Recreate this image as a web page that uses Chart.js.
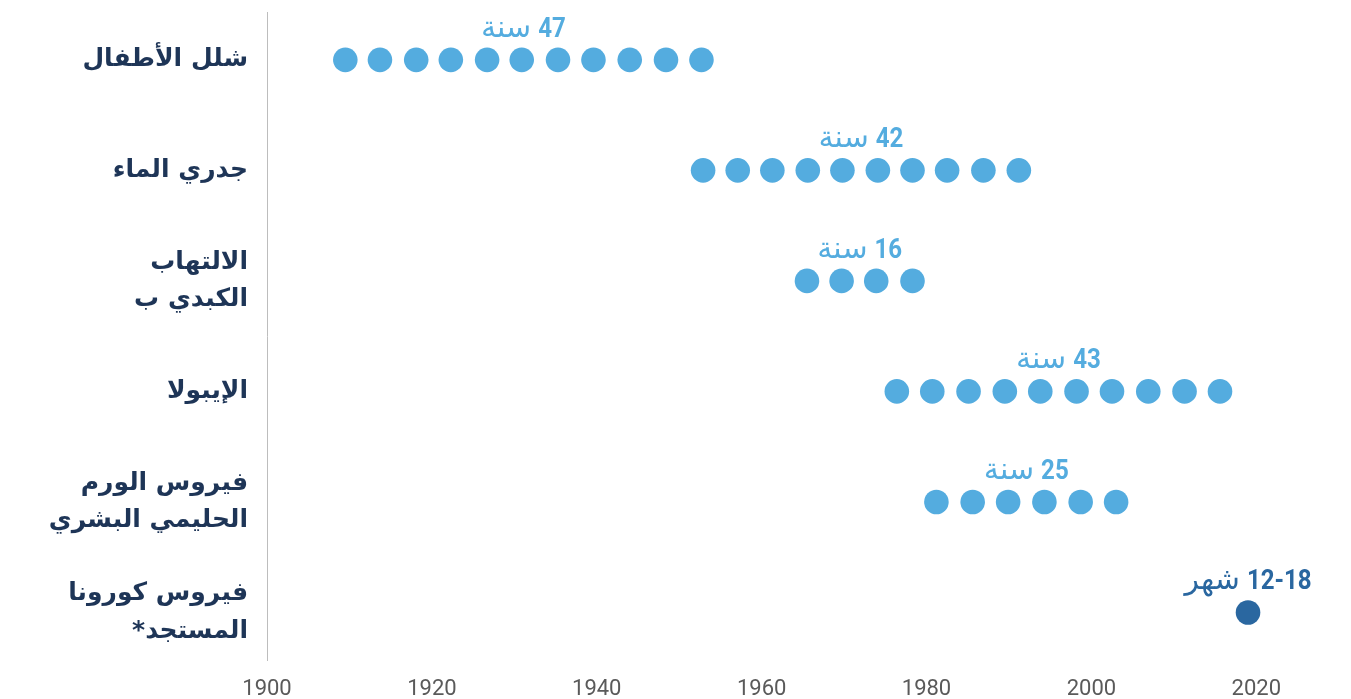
<!DOCTYPE html>
<html lang="ar">
<head>
  <meta charset="UTF-8">
  <title>Vaccine development time</title>
  <script src="https://cdn.jsdelivr.net/npm/chart.js"></script>
  <style>
    body {
      margin: 0;
      padding: 0;
      background: #fff;
      overflow: hidden;
    }
    .wrap {
      position: relative;
      width: 1351px;
      height: 699px;
    }
  </style>
</head>
<body>
  <div class="wrap">
    <canvas id="chart"></canvas>
  </div>

  <script>
    // row labels (top to bottom)
    const diseases = [
      ['شلل الأطفال'],
      ['جدري الماء'],
      ['الالتهاب', 'الكبدي ب'],
      ['الإيبولا'],
      ['فيروس الورم', 'الحليمي البشري'],
      ['فيروس كورونا', '*المستجد']
    ];

    // dot positions (years) per row
    const polioYears = [1909.5, 1913.7, 1918.1, 1922.3, 1926.7, 1930.9, 1935.3, 1939.6, 1944.0, 1948.4, 1952.7];
    const chickenpoxYears = [1952.9, 1957.1, 1961.3, 1965.6, 1969.8, 1974.1, 1978.3, 1982.5, 1986.9, 1991.2];
    const hepBYears = [1965.5, 1969.7, 1973.9, 1978.3];
    const ebolaYears = [1976.4, 1980.7, 1985.1, 1989.5, 1993.8, 1998.2, 2002.5, 2006.9, 2011.3, 2015.6];
    const hpvYears = [1981.2, 1985.6, 1989.9, 1994.3, 1998.7, 2003.0];
    const covidYears = [2019.0];

    const rowYears = [polioYears, chickenpoxYears, hepBYears, ebolaYears, hpvYears, covidYears];

    // duration labels above each row: number + word
    const durationNums = ['47', '42', '16', '43', '25', '12-18'];
    const durationWords = ['سنة', 'سنة', 'سنة', 'سنة', 'سنة', 'شهر'];

    const xTicks = [1900, 1920, 1940, 1960, 1980, 2000, 2020];

    const lightBlue = '#54acdf';
    const darkBlue = '#2a67a0';
    const navy = '#1e3557';

    const datasets = rowYears.map((years, row) => ({
      label: diseases[row].join(' '),
      data: years.map(y => ({ x: y, y: row })),
      backgroundColor: row === 5 ? darkBlue : lightBlue,
      borderWidth: 0,
      pointRadius: 12.3,
      pointHoverRadius: 12.3
    }));

    // draws "47 سنة" style labels centred over each row of dots
    const durationPlugin = {
      id: 'durations',
      afterDatasetsDraw(chart) {
        const { ctx, scales } = chart;
        const squeeze = 0.86;
        ctx.save();
        ctx.textBaseline = 'alphabetic';
        ctx.textAlign = 'left';
        rowYears.forEach((years, row) => {
          const mid = (years[0] + years[years.length - 1]) / 2;
          const cx = scales.x.getPixelForValue(mid);
          const base = scales.y.getPixelForValue(row) - 23;
          const numFont = 'bold 28px Roboto, sans-serif';
          const wordFont = '30px "DejaVu Sans", sans-serif';
          ctx.font = numFont;
          const nw = ctx.measureText(durationNums[row]).width * squeeze;
          ctx.font = wordFont;
          const ww = ctx.measureText(durationWords[row]).width;
          const gap = 7;
          const left = cx - (nw + gap + ww) / 2;
          ctx.fillStyle = row === 5 ? darkBlue : lightBlue;
          ctx.fillText(durationWords[row], left, base);
          ctx.font = numFont;
          ctx.save();
          ctx.translate(left + ww + gap, base);
          ctx.scale(squeeze, 1);
          ctx.fillText(durationNums[row], 0, 0);
          ctx.restore();
        });
        ctx.restore();
      }
    };

    new Chart(document.getElementById('chart'), {
      type: 'scatter',
      data: { datasets },
      options: {
        responsive: true,
        maintainAspectRatio: false,
        animation: false,
        layout: { padding: { top: 10, right: 11.5, left: 0, bottom: 0 } },
        plugins: {
          legend: { display: false },
          tooltip: { enabled: false }
        },
        scales: {
          x: {
            type: 'linear',
            min: 1900,
            max: 2030,
            afterBuildTicks: s => { s.ticks = xTicks.map(v => ({ value: v })); },
            afterFit: s => { s.height = 39; s.paddingLeft = 0; s.paddingRight = 0; },
            grid: { display: false },
            border: { display: false },
            ticks: {
              color: '#5a5a5a',
              padding: 8,
              maxRotation: 0,
              autoSkip: false,
              callback: v => String(v),
              font: { family: 'Roboto, sans-serif', size: 22 }
            }
          },
          y: {
            type: 'linear',
            reverse: true,
            min: -0.43,
            max: 5.43,
            afterBuildTicks: s => { s.ticks = diseases.map((_, i) => ({ value: i })); },
            afterFit: s => { s.width = 267; s.paddingTop = 0; s.paddingBottom = 0; },
            grid: { display: false, drawTicks: false },
            border: { display: true, color: '#bdbdbd', width: 1 },
            ticks: {
              color: navy,
              padding: 19,
              autoSkip: false,
              callback: v => diseases[v],
              font: { family: '"DejaVu Sans", sans-serif', size: 25, weight: 'bold', lineHeight: 1.5 }
            }
          }
        }
      },
      plugins: [durationPlugin]
    });
  </script>
</body>
</html>
